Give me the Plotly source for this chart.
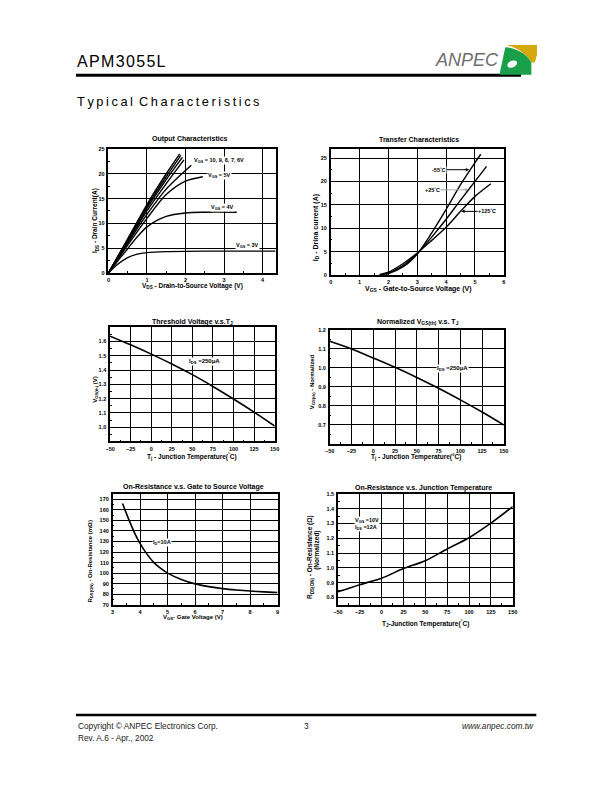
import math
import plotly.graph_objects as go

W, H = 612, 792
FONT = "Liberation Sans"
OFF = 8  # default page margin of the html body

# ---------------- DATA ----------------
# Output characteristics: VDS (V) vs ID (A) for several VGS
vds_10v = [0, 0.5, 1.0, 1.5, 1.85]
id_10v = [0, 6.9, 13.8, 20.0, 24.0]
vds_9v = [0, 0.5, 1.0, 1.5, 1.88]
id_9v = [0, 6.7, 13.4, 19.4, 23.7]
vds_8v = [0, 0.5, 1.0, 1.5, 1.92]
id_8v = [0, 6.5, 13.0, 18.8, 23.3]
vds_7v = [0, 0.5, 1.0, 1.5, 1.96]
id_7v = [0, 6.3, 12.5, 18.0, 22.8]
vds_6v = [0, 0.5, 1.0, 1.5, 2.15]
id_6v = [0, 6.0, 11.8, 16.9, 21.7]
vds_5v = [0, 0.5, 1.0, 1.5, 2.0, 2.45]
id_5v = [0, 5.6, 11.0, 15.8, 18.5, 19.4]
vds_4v = [0, 0.25, 0.5, 0.75, 1.0, 1.5, 2.0, 2.5, 3.33]
id_4v = [0, 2.5, 4.9, 7.3, 9.3, 11.4, 12.1, 12.25, 12.25]
vds_3v = [0, 0.25, 0.5, 0.75, 1.0, 1.5, 2.5, 3.5, 4.34]
id_3v = [0, 1.8, 3.1, 3.8, 4.1, 4.3, 4.4, 4.4, 4.4]

# Transfer characteristics: VGS (V) vs ID (A)
vgs_m55 = [1.7, 2.0, 2.5, 3.0, 3.5, 4.0, 4.5, 5.0, 5.2]
id_m55 = [0.0, 0.3, 1.7, 4.5, 9.0, 14.0, 19.3, 24.0, 25.8]
vgs_p25 = [1.7, 2.0, 2.5, 3.0, 3.5, 4.0, 4.5, 5.0, 5.4]
id_p25 = [0.0, 0.4, 2.0, 4.6, 8.1, 11.9, 16.0, 20.0, 23.2]
vgs_p125 = [1.7, 2.0, 2.5, 3.0, 3.5, 4.0, 4.5, 5.0, 5.55]
id_p125 = [0.1, 0.6, 2.4, 4.7, 7.4, 10.2, 13.6, 16.8, 19.5]

# Threshold voltage vs Tj
tj_vth = [-50, -25, 0, 25, 50, 75, 100, 125, 150]
vth = [1.638, 1.577, 1.512, 1.443, 1.368, 1.285, 1.197, 1.105, 1.008]

# Normalized threshold vs Tj
tj_nvth = [-50, -25, 0, 25, 50, 75, 100, 125, 150]
nvth = [1.14, 1.10, 1.052, 1.003, 0.950, 0.893, 0.832, 0.768, 0.700]

# On-resistance vs VGS (mOhm)
vgs_ron = [3.36, 3.6, 3.8, 4.0, 4.25, 4.5, 4.75, 5.0, 5.5, 6.0, 6.5, 7.0, 7.5, 8.0, 8.5, 9.0]
ron = [166, 150, 138, 128, 118, 110, 104.5, 100, 94, 89.8, 87.2, 85.3, 84.0, 83.0, 82.2, 81.6]

# On-resistance (normalized) vs Tj
tj_ron = [-50, -25, 0, 25, 50, 75, 100, 125, 150]
ron_norm = [0.838, 0.886, 0.930, 0.995, 1.048, 1.128, 1.204, 1.303, 1.415]

# Tick labels
ticks_out_x = [0, 1, 2, 3, 4]
ticks_out_y = [0, 5, 10, 15, 20, 25]
ticks_tr_x = [0, 1, 2, 3, 4, 5, 6]
ticks_tr_y = [0, 5, 10, 15, 20, 25]
ticks_temp = [-50, -25, 0, 25, 50, 75, 100, 125, 150]
ticks_vth_y = [1.0, 1.1, 1.2, 1.3, 1.4, 1.5, 1.6]
ticks_nvth_y = [0.7, 0.8, 0.9, 1.0, 1.1, 1.2]
ticks_ron_x = [3, 4, 5, 6, 7, 8, 9]
ticks_ron_y = [70, 80, 90, 100, 110, 120, 130, 140, 150, 160, 170]
ticks_rn_y = [0.8, 0.9, 1.0, 1.1, 1.2, 1.3, 1.4, 1.5]

# ---------------- HELPERS ----------------
def PX(x):
    return (x - OFF) / W

def PY(y):
    return 1 - (y - OFF) / H

def dom_x(a, b):
    return [PX(a), PX(b)]

def dom_y(top, bot):
    return [PY(bot), PY(top)]

def axis(domain, anchor, rng, tickvals, fmt=None, minor_dtick=None, minor_tick0=None):
    d = dict(domain=domain, anchor=anchor, range=rng, tickmode="array", tickvals=tickvals,
             showline=True, linecolor="black", linewidth=1.5, mirror=True,
             ticks="inside", ticklen=3, tickwidth=1, tickcolor="black",
             showgrid=True, gridcolor="black", gridwidth=1, zeroline=False,
             tickfont=dict(family=FONT, size=5.5, color="black", weight="bold"),
             fixedrange=True, ticklabelstandoff=1)
    if fmt:
        d["tickformat"] = fmt
    if minor_dtick:
        d["minor"] = dict(dtick=minor_dtick, tick0=minor_tick0 if minor_tick0 is not None else rng[0],
                          ticks="inside", ticklen=2, tickwidth=1, tickcolor="black", showgrid=False)
    return d

fig = go.Figure()

def curve(x, y, n, smooth=True, color="black", width=1.4):
    fig.add_trace(go.Scatter(x=x, y=y, mode="lines", xaxis="x" + n, yaxis="y" + n,
                             line=dict(color=color, width=width,
                                       shape="spline" if smooth else "linear",
                                       smoothing=0.8 if smooth else None),
                             showlegend=False, hoverinfo="skip"))

ann = []

def text(xp, yp, s, size=6.5, xanchor="center", yanchor="middle", angle=0, bold=True,
         italic=False, color="black", bg=None):
    a = dict(x=PX(xp), y=PY(yp), xref="paper", yref="paper", text=s, showarrow=False,
             xanchor=xanchor, yanchor=yanchor, textangle=angle,
             font=dict(family=FONT, size=size, color=color,
                       weight="bold" if bold else "normal",
                       style="italic" if italic else "normal"))
    if bg:
        a["bgcolor"] = bg
        a["borderpad"] = 0
    ann.append(a)

def dlabel(n, x, y, s, size=5.5, bg="white", align="center", xanchor="center"):
    ann.append(dict(x=x, y=y, xref="x" + n, yref="y" + n, text=s, showarrow=False,
                    xanchor=xanchor, yanchor="middle", align=align, bgcolor=bg, borderpad=0,
                    font=dict(family=FONT, size=size, color="black", weight="bold")))

def darrow(n, x, y, s, ax, color="black", size=5.5):
    ann.append(dict(x=x, y=y, xref="x" + n, yref="y" + n, text=s, showarrow=True,
                    ax=ax, ay=0, arrowhead=2, arrowsize=0.7, arrowwidth=1, arrowcolor=color,
                    standoff=0, bgcolor="white", borderpad=0,
                    font=dict(family=FONT, size=size, color="black", weight="bold")))

# ---------------- CHART 1: Output characteristics ----------------
for vx, vy in [(vds_10v, id_10v), (vds_9v, id_9v), (vds_8v, id_8v), (vds_7v, id_7v),
               (vds_6v, id_6v), (vds_5v, id_5v), (vds_4v, id_4v), (vds_3v, id_3v)]:
    curve(vx, vy, "1")
# ---------------- CHART 2: Transfer ----------------
for vx, vy in [(vgs_m55, id_m55), (vgs_p25, id_p25), (vgs_p125, id_p125)]:
    curve(vx, vy, "2")
# ---------------- CHART 3..6 ----------------
curve(tj_vth, vth, "3", width=1.6)
curve(tj_nvth, nvth, "4", width=1.6)
curve(vgs_ron, ron, "5", width=1.6)
curve(tj_ron, ron_norm, "6", width=1.6)

layout = dict(
    width=W, height=H, margin=dict(l=0, r=0, t=0, b=0),
    paper_bgcolor="white", plot_bgcolor="white", showlegend=False,
    xaxis1=axis(dom_x(105, 275), "y1", [0, 4.34], ticks_out_x, minor_dtick=0.5, minor_tick0=0),
    yaxis1=axis(dom_y(147, 272), "x1", [0, 25], ticks_out_y, minor_dtick=2.5, minor_tick0=0),
    xaxis2=axis(dom_x(331, 507), "y2", [0, 6], ticks_tr_x, minor_dtick=0.5, minor_tick0=0),
    yaxis2=axis(dom_y(146.7, 274), "x2", [0, 27], ticks_tr_y, minor_dtick=2.5, minor_tick0=0),
    xaxis3=axis(dom_x(106.7, 274), "y3", [-50, 150], ticks_temp, minor_dtick=12.5, minor_tick0=-50),
    yaxis3=axis(dom_y(326.7, 441.7), "x3", [0.9, 1.7], ticks_vth_y, fmt=".1f", minor_dtick=0.05, minor_tick0=0.9),
    xaxis4=axis(dom_x(330, 507), "y4", [-50, 150], ticks_temp, minor_dtick=12.5, minor_tick0=-50),
    yaxis4=axis(dom_y(329.3, 444.3), "x4", [0.6, 1.2], ticks_nvth_y, fmt=".1f", minor_dtick=0.05, minor_tick0=0.6),
    xaxis5=axis(dom_x(109.3, 277), "y5", [3, 9], ticks_ron_x, minor_dtick=0.5, minor_tick0=3),
    yaxis5=axis(dom_y(494.7, 606.3), "x5", [70, 175], ticks_ron_y, minor_dtick=5, minor_tick0=70),
    xaxis6=axis(dom_x(338.3, 516), "y6", [-50, 150], ticks_temp, minor_dtick=12.5, minor_tick0=-50),
    yaxis6=axis(dom_y(494.7, 606.3), "x6", [0.75, 1.5], ticks_rn_y, fmt=".1f", minor_dtick=0.05, minor_tick0=0.75),
)

# in-chart labels
dlabel("1", 2.88, 22.6, "V<sub>GS</sub> = 10, 9, 8, 7, 6V")
dlabel("1", 2.88, 19.7, "V<sub>GS</sub> = 5V")
dlabel("1", 2.96, 13.2, "V<sub>GS</sub> = 4V")
dlabel("1", 3.62, 5.5, "V<sub>GS</sub> = 3V")

darrow("2", 4.80, 22.5, "-55<sup>°</sup>C", -30)
darrow("2", 4.77, 18.2, "+25<sup>°</sup>C", -36, color="#a8a8a8")
darrow("2", 4.52, 13.6, "+125<sup>°</sup>C", 26)

dlabel("3", 65, 1.461, "I<sub>DS</sub> =250μA", size=6)
dlabel("4", 91, 0.996, "I<sub>DS</sub> =250μA", size=6)
dlabel("5", 4.78, 129.5, "I<sub>D</sub>=10A", size=5.5)
dlabel("6", -32, 1.30, "V<sub>GS</sub> =10V<br>I<sub>DS</sub> =12A", size=5.5, align="left", xanchor="left")

# chart titles
text(188, 137, "Output Characteristics", size=7)
text(421, 137.5, "Transfer Characteristics", size=7)
text(190, 321, "Threshold Voltage v.s.T<sub>J</sub>", size=7)
text(420, 321, "Normalized V<sub>GS(th)</sub> v.s. T<sub>J</sub>", size=7)
text(192, 487.5, "On-Resistance v.s. Gate to Source Voltage", size=7)
text(425, 488.5, "On-Resistance v.s. Junction Temperature", size=7)

# x-axis titles
text(190, 285.5, "V<sub>DS</sub> - Drain-to-Source Voltage (V)", size=6.5)
text(420, 288, "V<sub>GS</sub> - Gate-to-Source Voltage (V)", size=7)
text(190, 457, "T<sub>j</sub> - Junction Temperature(<sup>°</sup>C)", size=6.5)
text(418, 457.5, "T<sub>j</sub> - Junction Temperature(°C)", size=6.5)
text(191, 619, "V<sub>GS</sub>- Gate Voltage (V)", size=6)
text(427, 625, "T<sub>J</sub>-Junction Temperature(<sup>°</sup>C)", size=6.5)

# y-axis titles
text(92, 219, "I<sub>DS</sub> - Drain Current(A)", size=6.5, angle=-90)
text(316, 226, "I<sub>D</sub> - Drina current (A)", size=7, angle=-90)
text(91, 390, "V<sub>GS(th)</sub> (V)", size=6, angle=-90)
text(312, 382, "V<sub>GS(th)</sub> - Normalized", size=6, angle=-90)
text(87, 563, "R<sub>DS(ON)</sub> - On-Resistance (mΩ)", size=6, angle=-90)
text(310, 558, "R<sub>DS(ON)</sub> - On-Resistance (Ω)", size=6.5, angle=-90)
text(317, 551, "(Normalized)", size=6.5, angle=-90)

# header / footer text
HS = "\u200a"
TS = "\u2009"
text(71.5, 58.5, HS.join("APM3055L"), size=16, xanchor="left", bold=False)
text(71.5, 99.5, TS.join("Typical") + " " + TS + TS.join("Characteristics"),
     size=12.8, xanchor="left", bold=False)
text(470, 57, "ANPEC", size=18, italic=True, bold=False, color="#6e6e6e")
text(72, 728, "Copyright © ANPEC Electronics Corp.", size=8.3, xanchor="left", bold=False, color="#222222")
text(72, 741, "Rev. A.6 - Apr., 2002", size=8.3, xanchor="left", bold=False, color="#222222")
text(306, 728, "3", size=8.3, bold=False, color="#222222")
text(540, 728, "www.anpec.com.tw", size=8.3, xanchor="right", bold=False, italic=True, color="#222222")

layout["annotations"] = ann

# shapes: header/footer rules and logo
def ppath(points, close=True):
    s = "M " + " L ".join(f"{PX(x):.5f},{PY(y):.5f}" for x, y in points)
    return s + (" Z" if close else "")

def bez(p0, c1, c2, p1, n=12):
    pts = []
    for i in range(n + 1):
        t = i / n
        x = (1 - t) ** 3 * p0[0] + 3 * (1 - t) ** 2 * t * c1[0] + 3 * (1 - t) * t ** 2 * c2[0] + t ** 3 * p1[0]
        y = (1 - t) ** 3 * p0[1] + 3 * (1 - t) ** 2 * t * c1[1] + 3 * (1 - t) * t ** 2 * c2[1] + t ** 3 * p1[1]
        pts.append((x, y))
    return pts

yellow = [(510, 42.3), (540.7, 42.3), (540.7, 52), (538.5, 60), (535, 60)] + \
    bez((535, 60), (530, 51), (521, 45.5), (510, 42.3))
green = bez((508.5, 44.5), (520, 45.5), (530, 51), (535, 60)) + [(535, 72.3), (502.5, 72.3)]
ell = []
for i in range(24):
    t = 2 * math.pi * i / 24
    ex, ey = 5.2 * math.cos(t), 3.3 * math.sin(t)
    r = math.radians(-25)
    ell.append((515.5 + ex * math.cos(r) - ey * math.sin(r), 61.5 + ex * math.sin(r) + ey * math.cos(r)))

layout["shapes"] = [
    dict(type="line", xref="paper", yref="paper", x0=PX(72), x1=PX(524.5), y0=PY(72.8), y1=PY(72.8),
         line=dict(color="black", width=3)),
    dict(type="line", xref="paper", yref="paper", x0=PX(72), x1=PX(540), y0=PY(717.3), y1=PY(717.3),
         line=dict(color="black", width=2.5)),
    dict(type="path", xref="paper", yref="paper", path=ppath(yellow), fillcolor="#d4a80c", line=dict(width=0)),
    dict(type="path", xref="paper", yref="paper", path=ppath(green), fillcolor="#1aa04a", line=dict(width=0)),
    dict(type="path", xref="paper", yref="paper", path=ppath(ell), fillcolor="white", line=dict(width=0)),
]

fig.update_layout(**layout)
fig.write_html("out.html")
